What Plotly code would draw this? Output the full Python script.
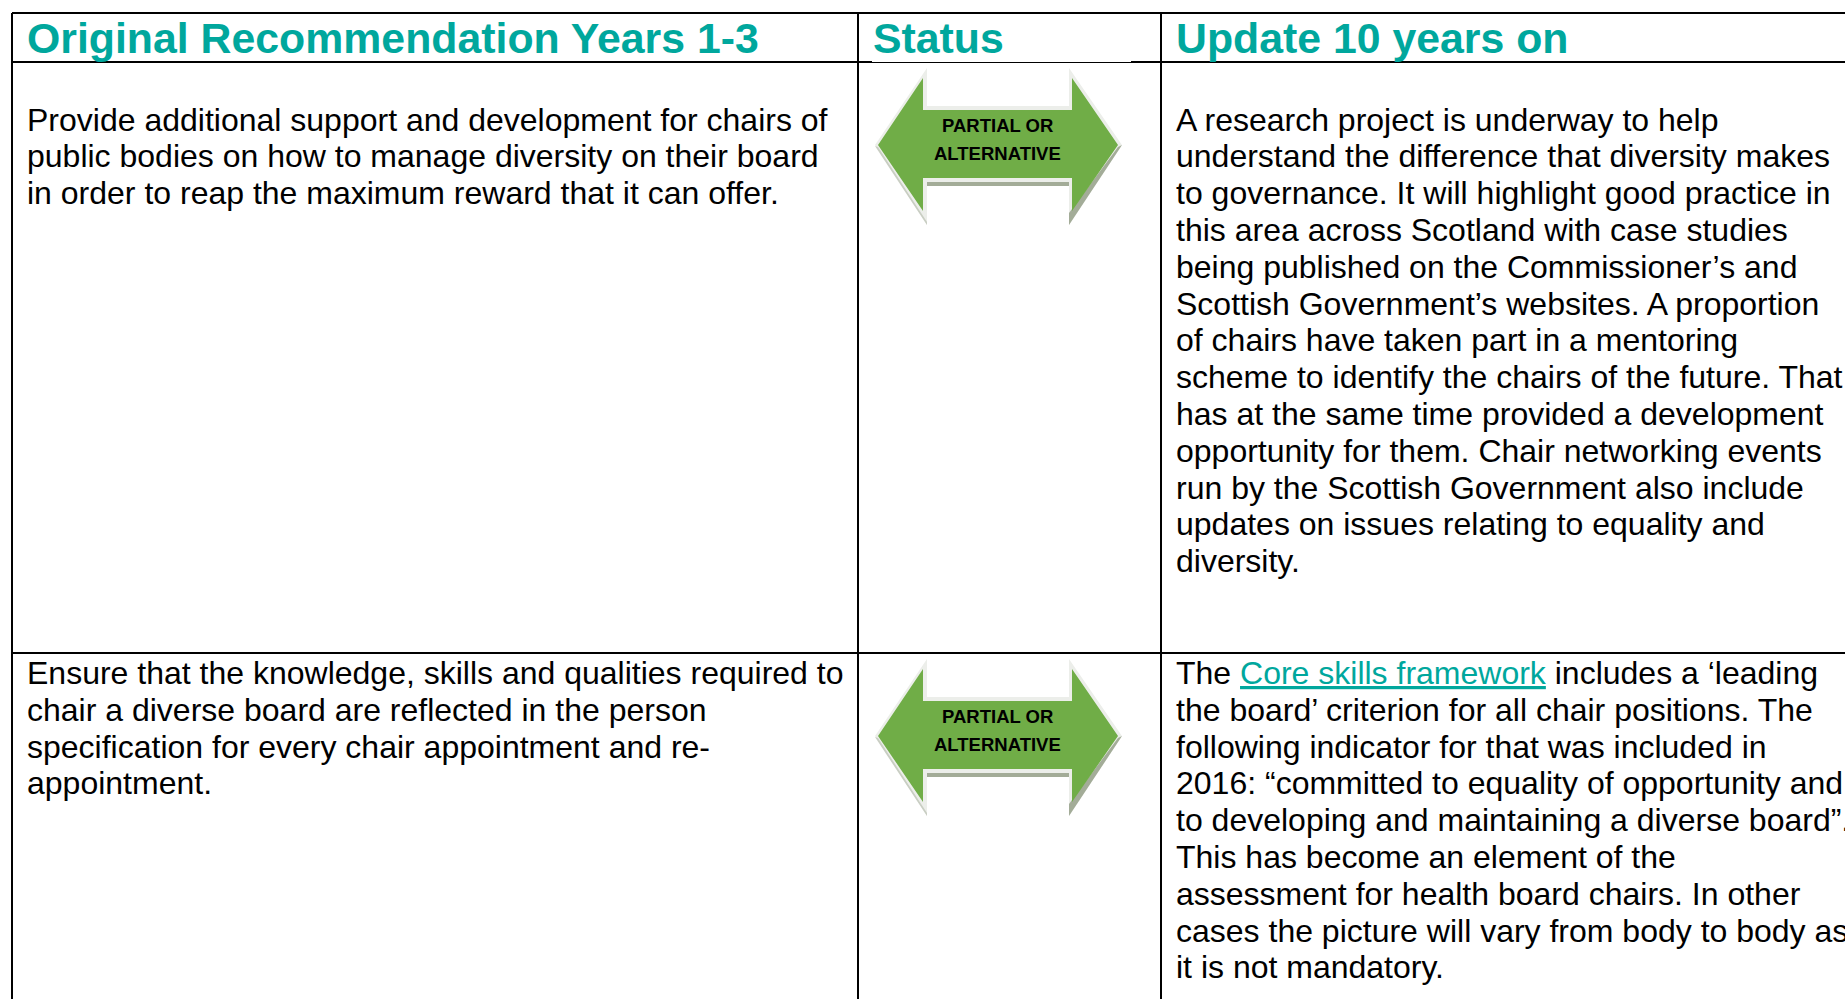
import plotly.graph_objects as go

W, H = 1845, 999
TEAL = "#00A79D"
GREEN = "#70AD47"
BODY_FONT = "Liberation Sans"

headers = ["Original Recommendation Years 1-3", "Status", "Update 10 years on"]
status_lines = ["PARTIAL OR", "ALTERNATIVE"]
row1_rec = [
    "Provide additional support and development for chairs of",
    "public bodies on how to manage diversity on their board",
    "in order to reap the maximum reward that it can offer.",
]
row1_update = [
    "A research project is underway to help",
    "understand the difference that diversity makes",
    "to governance. It will highlight good practice in",
    "this area across Scotland with case studies",
    "being published on the Commissioner’s and",
    "Scottish Government’s websites. A proportion",
    "of chairs have taken part in a mentoring",
    "scheme to identify the chairs of the future. That",
    "has at the same time provided a development",
    "opportunity for them. Chair networking events",
    "run by the Scottish Government also include",
    "updates on issues relating to equality and",
    "diversity.",
]
row2_rec = [
    "Ensure that the knowledge, skills and qualities required to",
    "chair a diverse board are reflected in the person",
    "specification for every chair appointment and re-",
    "appointment.",
]
row2_update = [
    f'The <span style="color:{TEAL};text-decoration:underline">Core skills framework</span> includes a ‘leading',
    "the board’ criterion for all chair positions. The",
    "following indicator for that was included in",
    "2016: “committed to equality of opportunity and",
    "to developing and maintaining a diverse board”.",
    "This has become an element of the",
    "assessment for health board chairs. In other",
    "cases the picture will vary from body to body as",
    "it is not mandatory.",
]

# table geometry
col_edges = [12, 858, 1161]
top_y, head_y, row_y = 13, 62, 653
text_x = [24.5, 871, 1174]
row_starts = [(119.5, 119.5), (673, 673)]
pitch = 36.8
body_size = 32
head_size = 42.8

# arrow outlines, relative to the first arrow
arrow_outer = [(875,145),(927,68),(927,106),(1069,106),(1069,68),(1122,145),(1069,225),(1069,186),(927,186),(927,225),(875,145)]
arrow_fill = [(878,145),(923,78),(923,110),(1072,110),(1072,78),(1118,145),(1072,211),(1072,178),(923,178),(923,211),(878,145)]
arrow_shade_a = [(1122,145),(1069,225),(1069,213),(1118,147),(1122,145)]
arrow_shade_b = [(927,182),(1069,182),(1069,186),(927,186),(927,182)]
arrow_shade_c = [(875,146),(927,225),(927,222),(878,147),(875,146)]
arrow_offsets = [0, 591]

fig = go.Figure()

def poly(pts, color, dy):
    fig.add_trace(go.Scatter(
        x=[p[0] for p in pts], y=[p[1] + dy for p in pts],
        mode="lines", fill="toself", fillcolor=color,
        line=dict(width=0, color=color), hoverinfo="skip", showlegend=False))

for dy in arrow_offsets:
    poly(arrow_outer, "#ECEEEA", dy)
    poly(arrow_shade_a, "#A3AC98", dy)
    poly(arrow_shade_b, "#A3AC98", dy)
    poly(arrow_shade_c, "#C9CEC3", dy)
    poly(arrow_fill, GREEN, dy)

def rule(x0, y0, x1, y1, w=2, c="black"):
    fig.add_shape(type="line", x0=x0, y0=y0, x1=x1, y1=y1, line=dict(color=c, width=w), layer="below")

rule(col_edges[0], top_y, W, top_y)
rule(col_edges[0], head_y, W, head_y)
rule(col_edges[0], row_y, W, row_y)
for x in col_edges:
    rule(x, top_y, x, H)
fig.add_shape(type="line", x0=872, y0=61.5, x1=1131, y1=61.5, line=dict(color="white", width=1), layer="below")

def label(x, y, s, size, color="black", bold=False, family=BODY_FONT, anchor="left"):
    fig.add_annotation(x=x, y=y, text=f"<b>{s}</b>" if bold else s, showarrow=False,
                       xanchor=anchor, yanchor="middle", align=anchor,
                       xshift=0, font=dict(family=family, size=size, color=color))

for x, h in zip(text_x, headers):
    label(x, 38, h, head_size, TEAL, True)

for (ya, yb), rec, upd in zip(row_starts, [row1_rec, row2_rec], [row1_update, row2_update]):
    for i, s in enumerate(rec):
        label(text_x[0], ya + i * pitch, s, body_size)
    for i, s in enumerate(upd):
        label(text_x[2], yb + i * pitch, s, body_size)

for dy in arrow_offsets:
    for i, s in enumerate(status_lines):
        label(997.5, 125 + i * 28.5 + dy, s, 18.5, "black", True, BODY_FONT, "center")

fig.update_layout(
    width=W, height=H, margin=dict(l=0, r=0, t=0, b=0),
    paper_bgcolor="white", plot_bgcolor="white", showlegend=False,
    xaxis=dict(range=[0, W], visible=False, fixedrange=True),
    yaxis=dict(range=[H, 0], visible=False, fixedrange=True),
)
fig.write_html("out.html", config={"displayModeBar": False},
               post_script="document.body.style.margin='0';document.body.style.overflow='hidden';")
